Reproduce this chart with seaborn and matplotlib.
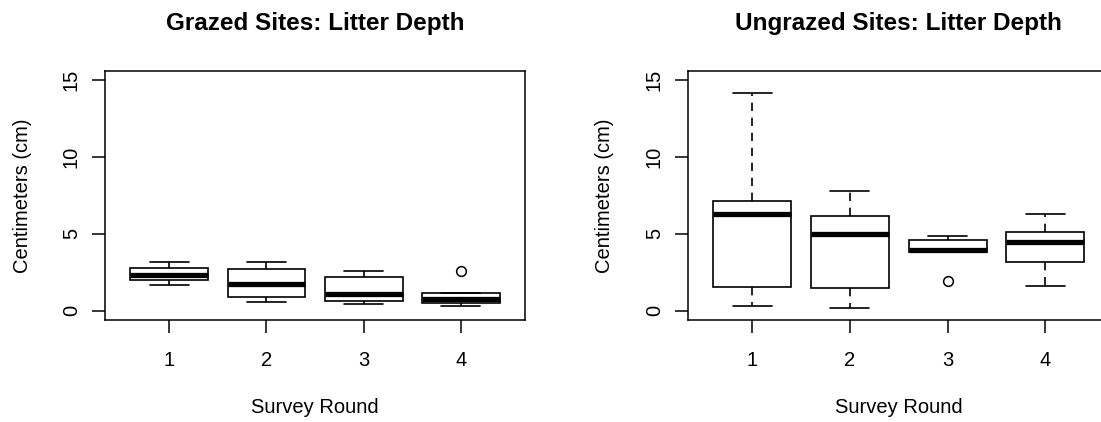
"""
Litter depth boxplots: grazed vs ungrazed sites, by survey round
"""

import numpy as np
import pandas as pd
import matplotlib.pyplot as plt
import seaborn as sns

sns.set_style("white")
plt.rcParams['font.family'] = ['Liberation Sans', 'DejaVu Sans']
plt.rcParams['text.color'] = 'black'
plt.rcParams['axes.labelcolor'] = 'black'

# survey rounds (x categories)
rounds = ['1', '2', '3', '4']

# grazed sites, litter depth in cm (values estimated from the boxes)
grazed_r1 = [1.65, 1.85, 1.99, 2.20, 2.34, 2.50, 2.77, 2.95, 3.16]
grazed_r2 = [0.58, 0.75, 0.91, 1.30, 1.77, 2.20, 2.71, 2.95, 3.16]
grazed_r3 = [0.43, 0.52, 0.61, 0.85, 1.08, 1.60, 2.21, 2.40, 2.60]
grazed_r4 = [0.28, 0.38, 0.48, 0.62, 0.76, 0.95, 1.13, 1.13, 2.60]

# ungrazed sites, litter depth in cm
ungrazed_r1 = [0.28, 0.90, 1.52, 4.00, 6.27, 6.80, 7.14, 10.50, 14.20]
ungrazed_r2 = [0.20, 0.85, 1.50, 3.20, 4.99, 5.60, 6.16, 7.00, 7.81]
ungrazed_r3 = [1.95, 3.82, 3.82, 3.90, 3.97, 4.30, 4.62, 4.75, 4.86]
ungrazed_r4 = [1.61, 2.40, 3.19, 3.80, 4.47, 4.80, 5.12, 5.70, 6.32]

y_ticks = [0, 5, 10, 15]


def to_long(groups):
    rows = []
    for rnd, vals in zip(rounds, groups):
        for v in vals:
            rows.append({'round': rnd, 'depth': v})
    return pd.DataFrame(rows)


def draw_panel(ax, df, title):
    sns.boxplot(data=df, x='round', y='depth', order=rounds, ax=ax,
                width=0.8, color='white', linecolor='black', linewidth=1.2,
                whis=1.5, fliersize=7,
                medianprops={'linewidth': 3.8, 'color': 'black'},
                whiskerprops={'linestyle': (0, (5, 4))},
                flierprops={'marker': 'o', 'markerfacecolor': 'none',
                            'markeredgecolor': 'black', 'markeredgewidth': 1.1})

    ax.set_xlim(-0.66, 3.66)
    ax.set_ylim(-0.6, 15.6)
    ax.set_yticks(y_ticks)
    ax.set_xticks(range(len(rounds)))
    ax.set_xticklabels(rounds)

    ax.tick_params(direction='out', length=9.4, width=1.1, color='black',
                   labelsize=14.5, labelcolor='black')
    ax.tick_params(axis='x', pad=13, bottom=True)
    ax.tick_params(axis='y', pad=8, left=True)
    plt.setp(ax.get_yticklabels(), rotation=90, va='center')

    for sp in ax.spines.values():
        sp.set_visible(True)
        sp.set_linewidth(1.1)
        sp.set_color('black')

    ax.set_title(title, fontsize=17.5, fontweight='bold', pad=29.5, color='black')
    ax.set_xlabel('Survey Round', fontsize=14.5, color='black')
    ax.set_ylabel('Centimeters (cm)', fontsize=14.5, color='black')
    ax.xaxis.set_label_coords(0.5, -0.313)
    ax.yaxis.set_label_coords(-0.175, 0.5)


fig = plt.figure(figsize=(11.01, 4.22), dpi=100)
ax1 = fig.add_axes([0.0954, 0.2417, 0.3815, 0.590])
ax2 = fig.add_axes([0.6249, 0.2417, 0.3828, 0.590])

draw_panel(ax1, to_long([grazed_r1, grazed_r2, grazed_r3, grazed_r4]),
           'Grazed Sites: Litter Depth')
draw_panel(ax2, to_long([ungrazed_r1, ungrazed_r2, ungrazed_r3, ungrazed_r4]),
           'Ungrazed Sites: Litter Depth')

plt.savefig('out.png', dpi=100)
plt.close()
